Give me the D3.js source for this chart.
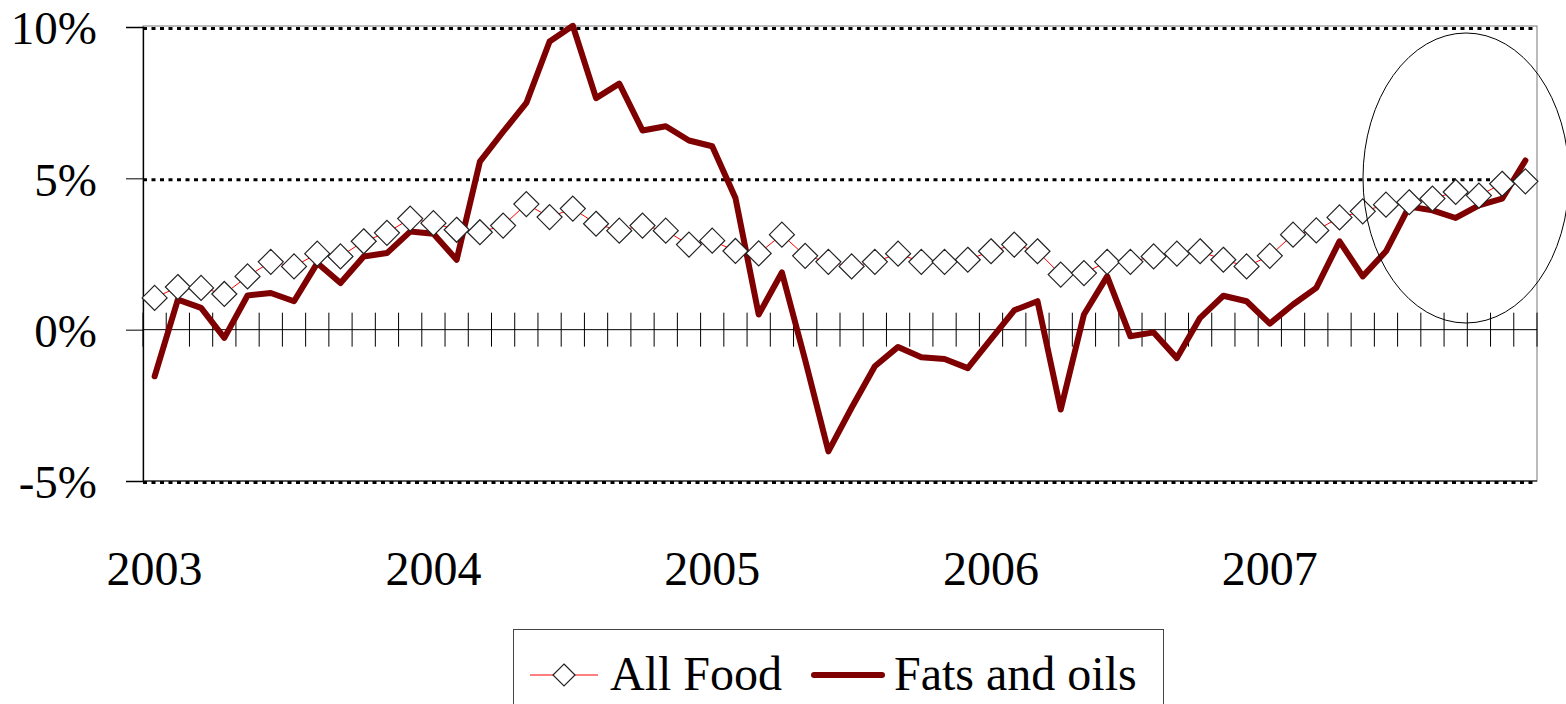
<!DOCTYPE html>
<html>
<head>
<meta charset="utf-8">
<script src="https://cdn.jsdelivr.net/npm/d3@7"></script>
<style>
html,body{margin:0;padding:0;background:#fff;}
svg{display:block;}
text{font-family:"Liberation Serif","Times New Roman",serif;fill:#000;}
</style>
</head>
<body>
<svg id="chart" width="1566" height="704"></svg>
<script>
// ---- Data (monthly, Jan 2003 - Dec 2007, % change) ----
const years = ["2003","2004","2005","2006","2007"];
const monthsPerYear = 12;
const allFood = [1.05,1.41,1.38,1.18,1.76,2.24,2.09,2.51,2.42,2.92,3.20,3.67,
                 3.52,3.30,3.22,3.44,4.15,3.72,4.00,3.50,3.27,3.44,3.27,2.81,
                 2.94,2.60,2.52,3.14,2.44,2.24,2.09,2.24,2.51,2.24,2.24,2.31,
                 2.59,2.81,2.59,1.82,1.87,2.24,2.24,2.42,2.51,2.59,2.31,2.09,
                 2.44,3.14,3.28,3.71,3.91,4.13,4.21,4.33,4.55,4.43,4.82,4.90];
const fatsOils = [-1.54,0.99,0.72,-0.27,1.13,1.21,0.94,2.20,1.54,2.42,2.53,3.24,
                  3.17,2.31,5.55,6.54,7.49,9.52,10.04,7.65,8.13,6.58,6.72,6.25,
                  6.06,4.35,0.50,1.89,-1.00,-4.02,-2.58,-1.21,-0.57,-0.91,-0.97,-1.27,
                  -0.31,0.64,0.94,-2.64,0.50,1.76,-0.22,-0.09,-0.94,0.39,1.12,0.94,
                  0.20,0.83,1.38,2.92,1.76,2.59,4.07,3.94,3.69,4.11,4.33,5.59];
const yTicks = [-5,0,5,10];
const yTickLabels = ["-5%","0%","5%","10%"];
const gridValues = [-5,5,10];
const seriesNames = ["All Food","Fats and oils"];

// ---- Layout ----
const svg = d3.select("#chart");
const L = 143, R = 1537, T = 27, B = 481;
const idx = d3.range(allFood.length);
const x = d3.scaleBand().domain(idx).range([L, R]).padding(0);
const cx = i => x(i) + x.bandwidth() / 2;
const y = d3.scaleLinear().domain([-5, 10]).range([B, T]);

// plot border (right/top grey)
svg.append("rect").attr("x", L).attr("y", T - 1).attr("width", R - L).attr("height", B - T + 1)
  .attr("fill", "none").attr("stroke", "#777").attr("stroke-width", 1);

// dashed gridlines
svg.append("g").selectAll("line").data(gridValues).join("line")
  .attr("x1", L).attr("x2", R)
  .attr("y1", d => y(d) + 1.5).attr("y2", d => y(d) + 1.5)
  .attr("stroke", "#000").attr("stroke-width", 3).attr("stroke-dasharray", "4,4.5");
// bottom solid line
svg.append("line").attr("x1", L).attr("x2", R).attr("y1", B).attr("y2", B)
  .attr("stroke", "#000").attr("stroke-width", 1);

// Y axis
const yAxis = d3.axisLeft(y).tickValues(yTicks).tickSize(17)
  .tickFormat((d, i) => yTickLabels[yTicks.indexOf(d)]).tickPadding(29);
const gy = svg.append("g").attr("transform", `translate(${L},0)`).call(yAxis);
gy.select(".domain").attr("stroke", "#000").attr("stroke-width", 1.3);
gy.selectAll(".tick line").attr("stroke", "#000");
gy.selectAll(".tick text").attr("font-size", 47).attr("dy", "0.36em")
  .attr("font-family", '"Liberation Serif","Times New Roman",serif');

// zero axis line with crossing category ticks
svg.append("line").attr("x1", L).attr("x2", R).attr("y1", y(0)).attr("y2", y(0))
  .attr("stroke", "#000").attr("stroke-width", 1);
const boundaries = d3.range(allFood.length + 1).map(i => i === allFood.length ? R : x(i));
svg.append("g").selectAll("line").data(boundaries).join("line")
  .attr("x1", d => d).attr("x2", d => d)
  .attr("y1", y(0) - 17).attr("y2", y(0) + 17)
  .attr("stroke", "#000").attr("stroke-width", 1);

// year labels
svg.append("g").selectAll("text").data(years).join("text")
  .attr("x", (d, i) => cx(i * monthsPerYear))
  .attr("y", 585)
  .attr("text-anchor", "middle").attr("font-size", 48)
  .text(d => d);

// Fats and oils line
const line = d3.line().x((d, i) => cx(i)).y(d => y(d));
svg.append("path").datum(fatsOils).attr("d", line)
  .attr("fill", "none").attr("stroke", "#7f0000").attr("stroke-width", 6)
  .attr("stroke-linejoin", "round").attr("stroke-linecap", "round");

// All Food line + diamonds
svg.append("path").datum(allFood).attr("d", line)
  .attr("fill", "none").attr("stroke", "#ff0000").attr("stroke-width", 1);
const diamond = d3.symbol().type(d3.symbolSquare).size(2 * 9 * 9 * 1.0);
svg.append("g").selectAll("path").data(allFood).join("path")
  .attr("d", d => { const h = 12.5; return `M0,${-h}L${h},0L0,${h}L${-h},0Z`; })
  .attr("transform", (d, i) => `translate(${cx(i)},${y(d)})`)
  .attr("fill", "#fff").attr("stroke", "#222").attr("stroke-width", 1.2);

// annotation ellipse
svg.append("ellipse").attr("cx", 1466).attr("cy", 178).attr("rx", 103).attr("ry", 145)
  .attr("fill", "none").attr("stroke", "#000").attr("stroke-width", 1);

// Legend
const lg = svg.append("g");
lg.append("rect").attr("x", 513.5).attr("y", 629.5).attr("width", 650).attr("height", 80)
  .attr("fill", "#fff").attr("stroke", "#444").attr("stroke-width", 1);
const ly = 675;
lg.append("line").attr("x1", 530).attr("x2", 598).attr("y1", ly).attr("y2", ly)
  .attr("stroke", "#ff0000").attr("stroke-width", 1);
lg.append("path").attr("d", "M0,-11L11,0L0,11L-11,0Z")
  .attr("transform", `translate(564,${ly})`)
  .attr("fill", "#fff").attr("stroke", "#222").attr("stroke-width", 1.2);
lg.append("text").attr("x", 610).attr("y", 690).attr("font-size", 48).text(seriesNames[0]);
lg.append("line").attr("x1", 814).attr("x2", 882).attr("y1", ly).attr("y2", ly)
  .attr("stroke", "#7f0000").attr("stroke-width", 6).attr("stroke-linecap", "round");
lg.append("text").attr("x", 894).attr("y", 690).attr("font-size", 48).text(seriesNames[1]);
</script>
</body>
</html>
